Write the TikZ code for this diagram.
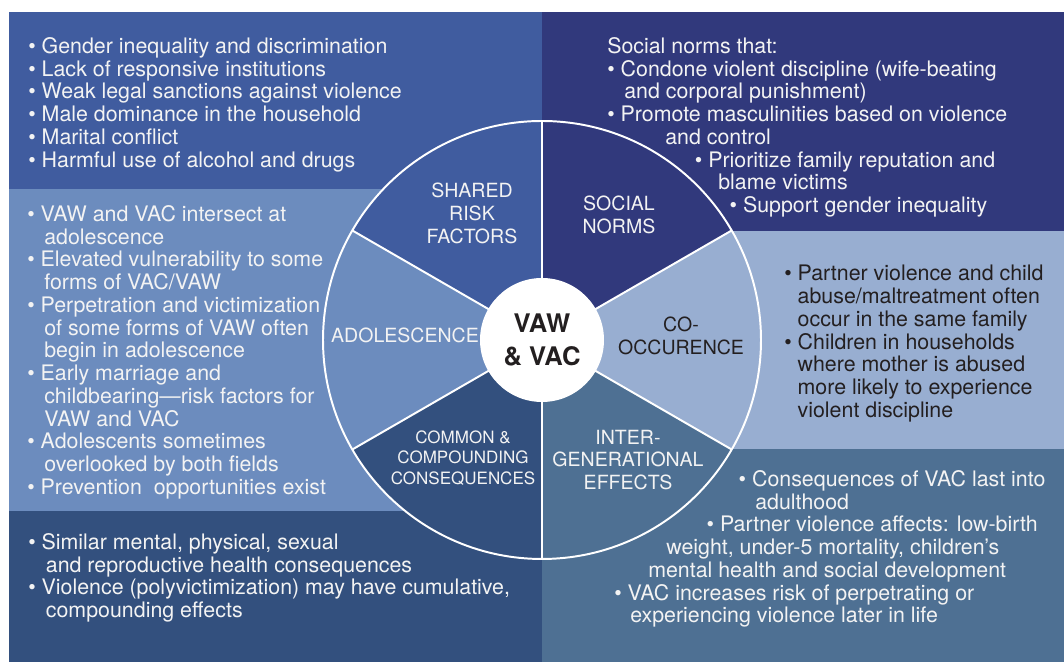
\documentclass[tikz,border=0pt]{standalone}
\usepackage{fontspec}
\setmainfont{TeX Gyre Heros}

\definecolor{riskblue}{RGB}{64,92,159}
\definecolor{normblue}{RGB}{49,57,124}
\definecolor{adolblue}{RGB}{108,140,190}
\definecolor{coocblue}{RGB}{152,174,209}
\definecolor{consblue}{RGB}{51,80,126}
\definecolor{genblue}{RGB}{78,112,147}
\definecolor{inkdark}{RGB}{35,31,32}
\definecolor{inklight}{RGB}{243,243,243}

\newcommand{\bul}{\textbullet\ }

\tikzset{
	listtext/.style={anchor=north west, align=left, inner sep=0pt, text=inklight, font=\fontsize{15.2}{16.2}\selectfont},
	sectorlabel/.style={align=center, inner sep=0pt, text=inklight, font=\fontsize{13.9}{16.3}\selectfont},
	divider/.style={draw=white, line width=1.4pt},
	hub/.style={circle, fill=white, minimum size=3.1cm, inner sep=0pt, text=inkdark, align=center, font=\bfseries\fontsize{18.2}{23.2}\selectfont}
}

\begin{document}
\begin{tikzpicture}
		\useasboundingbox (0, 0) rectangle (26.6, 16.55);
		\fill[white] (0, 0) rectangle (26.6, 16.55);
		% Panels:
		\fill[riskblue] (0.225, 11.825) rectangle (13.55, 16.25);
		\fill[normblue] (13.55, 10.775) rectangle (26.6, 16.25);
		\fill[adolblue] (0.225, 3.775) rectangle (13.55, 11.825);
		\fill[coocblue] (13.55, 5.325) rectangle (26.6, 10.775);
		\fill[consblue] (0.225, 0) rectangle (13.55, 3.775);
		\fill[genblue] (13.55, 0) rectangle (26.6, 5.325);
		% Wheel:
		\coordinate (c) at (13.55, 8.05);
		\fill[normblue] (c) -- ++(30:5.475) arc[start angle=30, end angle=90, radius=5.475] -- cycle;
		\fill[riskblue] (c) -- ++(90:5.475) arc[start angle=90, end angle=150, radius=5.475] -- cycle;
		\fill[adolblue] (c) -- ++(150:5.475) arc[start angle=150, end angle=210, radius=5.475] -- cycle;
		\fill[consblue] (c) -- ++(210:5.475) arc[start angle=210, end angle=270, radius=5.475] -- cycle;
		\fill[genblue] (c) -- ++(270:5.475) arc[start angle=270, end angle=330, radius=5.475] -- cycle;
		\fill[coocblue] (c) -- ++(330:5.475) arc[start angle=330, end angle=390, radius=5.475] -- cycle;
		\draw[divider] (c) -- ++(30:5.475);
		\draw[divider] (c) -- ++(90:5.475);
		\draw[divider] (c) -- ++(150:5.475);
		\draw[divider] (c) -- ++(210:5.475);
		\draw[divider] (c) -- ++(270:5.475);
		\draw[divider] (c) -- ++(330:5.475);
		\draw[divider] (c) circle[radius=5.475];
		\node[hub] (hub) at (c) {VAW\\\& VAC};
		% Sector labels:
		\node[sectorlabel] (risk) at (11.8, 11.225) {SHARED\\RISK\\FACTORS};
		\node[sectorlabel] (norms) at (15.475, 11.175) {SOCIAL\\NORMS};
		\node[sectorlabel, text=inkdark] (cooc) at (17.025, 8.15) {CO-\\OCCURENCE};
		\node[sectorlabel] (gen) at (15.7, 5.05) {INTER-\\GENERATIONAL\\EFFECTS};
		\node[sectorlabel, font=\fontsize{12.1}{14.5}\selectfont] (cons) at (11.575, 5.1) {COMMON \&\\COMPOUNDING\\CONSEQUENCES};
		\node[sectorlabel] (adol) at (10.125, 8.175) {ADOLESCENCE};
		% Panel texts:
		\node[listtext] (risktext) at (0.7, 15.625) {\bul Gender inequality and discrimination\\
			\bul Lack of responsive institutions\\
			\bul Weak legal sanctions against violence\\
			\bul Male dominance in the household\\
			\bul Marital conflict\\
			\bul Harmful use of alcohol and drugs};
		\node[listtext] (normstext) at (15.175, 15.625) {Social norms that:\\
			\bul Condone violent discipline (wife-beating\\
			\hspace*{0.425cm}and corporal punishment)\\
			\bul Promote masculinities based on violence\\
			\hspace*{1.45cm}and control\\
			\hspace*{2.19cm}\bul Prioritize family reputation and\\
			\hspace*{2.775cm}blame victims\\
			\hspace*{3.06cm}\bul Support gender inequality};
		\node[listtext] (adoltext) at (0.675, 11.425) {\bul VAW and VAC intersect at\\
			\hspace*{0.425cm}adolescence\\
			\bul Elevated vulnerability to some\\
			\hspace*{0.425cm}forms of VAC/VAW\\
			\bul Perpetration and victimization\\
			\hspace*{0.425cm}of some forms of VAW often\\
			\hspace*{0.425cm}begin in adolescence\\
			\bul Early marriage and\\
			\hspace*{0.425cm}childbearing---risk factors for\\
			\hspace*{0.425cm}VAW and VAC\\
			\bul Adolescents sometimes\\
			\hspace*{0.425cm}overlooked by both fields\\
			\bul Prevention\ \ opportunities exist};
		\node[listtext, text=inkdark] (cooctext) at (19.6, 9.925) {\bul Partner violence and child\\
			\hspace*{0.335cm}abuse/maltreatment often\\
			\hspace*{0.335cm}occur in the same family\\
			\bul Children in households\\
			\hspace*{0.335cm}where mother is abused\\
			\hspace*{0.335cm}more likely to experience\\
			\hspace*{0.335cm}violent discipline};
		\node[listtext] (constext) at (0.7, 3.225) {\bul Similar mental, physical, sexual\\
			\hspace*{0.44cm}and reproductive health consequences\\
			\bul Violence (polyvictimization) may have cumulative,\\
			\hspace*{0.44cm}compounding effects};
		\node[listtext] (gentext) at (15.35, 4.8) {\hspace*{3.11cm}\bul Consequences of VAC last into\\
			\hspace*{3.525cm}adulthood\\
			\hspace*{2.31cm}\bul Partner violence affects: low-birth\\
			\hspace*{1.3cm}weight, under-5 mortality, children’s\\
			\hspace*{0.85cm}mental health and social development\\
			\bul VAC increases risk of perpetrating or\\
			\hspace*{0.4cm}experiencing violence later in life};
	\end{tikzpicture}
\end{document}
